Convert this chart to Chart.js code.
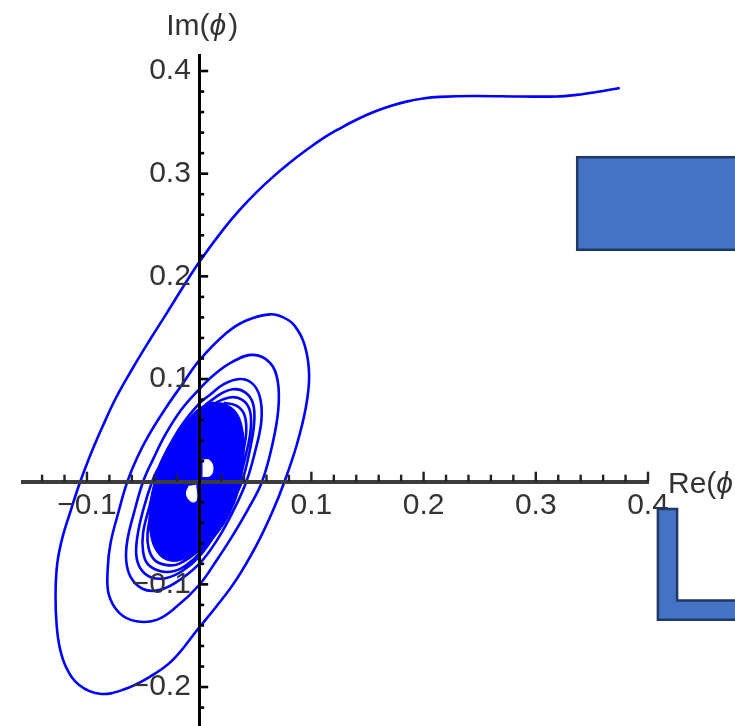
<!DOCTYPE html>
<html>
<head>
<meta charset="utf-8">
<script src="https://cdn.jsdelivr.net/npm/chart.js@4.4.0/dist/chart.umd.min.js"></script>
<style>
  html, body { margin: 0; padding: 0; background: #fff; }
  #wrap { position: relative; width: 735px; height: 726px; overflow: hidden; }
  #plot { position: absolute; left: 0; top: 0; }
  .shapes { position: absolute; left: 0; top: 0; }
</style>
</head>
<body>
<div id="wrap">
  <canvas id="plot" width="735" height="726"></canvas>
  <!-- the two blue boxes pasted over the figure -->
  <svg class="shapes" width="735" height="726">
    <rect x="577.2" y="157.2" width="180" height="92.6" fill="#4472c4" stroke="#1f3864" stroke-width="2.5"/>
    <polygon points="657.9,508.9 677.1,508.9 677.1,600.5 750,600.5 750,619.8 657.9,619.8"
             fill="#4472c4" stroke="#1f3864" stroke-width="2.5"/>
  </svg>
</div>
<script>
// trajectory in the (Re phi, Im phi) plane, in drawing order
const outerArc = [
  [0.3748, 0.3834], [0.354, 0.3795], [0.3362, 0.3768], [0.3184, 0.3752], [0.2886, 0.3752],
  [0.244, 0.3757], [0.2144, 0.3748], [0.1995, 0.3732], [0.1847, 0.3702], [0.1698, 0.3657],
  [0.1549, 0.3598], [0.1401, 0.3525], [0.1253, 0.344], [0.1103, 0.3344], [0.0955, 0.323],
  [0.0807, 0.3106], [0.0658, 0.2969], [0.051, 0.2818], [0.0361, 0.2647], [0.0212, 0.2453],
  [0.0004, 0.2145], [-0.0144, 0.1897], [-0.029, 0.164], [-0.044, 0.138], [-0.059, 0.111],
  [-0.074, 0.082], [-0.086, 0.054], [-0.0976, 0.0244], [-0.1065, -0.0015]
];
const loop1 = [
  [-0.115, -0.03], [-0.122, -0.055], [-0.1265, -0.08], [-0.128, -0.11], [-0.127, -0.14],
  [-0.124, -0.163], [-0.118, -0.182], [-0.107, -0.198], [-0.0887, -0.2066], [-0.068, -0.2027],
  [-0.044, -0.19], [-0.0234, -0.1735], [0.0, -0.142], [0.0153, -0.1216], [0.033, -0.0956],
  [0.051, -0.062], [0.065, -0.03], [0.076, 0.0], [0.087, 0.036], [0.095, 0.072],
  [0.098, 0.104], [0.094, 0.133], [0.085, 0.152], [0.075, 0.16], [0.063, 0.163]
];
const loop2 = [
  [0.042, 0.157], [0.024, 0.1446], [0.0, 0.118], [-0.015, 0.095], [-0.029, 0.073],
  [-0.044, 0.047], [-0.055, 0.024], [-0.064, 0.0], [-0.072, -0.03], [-0.079, -0.06],
  [-0.0815, -0.085], [-0.0805, -0.11], [-0.071, -0.128], [-0.056, -0.136], [-0.038, -0.1346],
  [-0.020, -0.1216], [0.0, -0.1006], [0.0153, -0.077], [0.029, -0.054], [0.044, -0.026],
  [0.056, 0.0], [0.065, 0.035], [0.0705, 0.07], [0.070, 0.098], [0.063, 0.116], [0.048, 0.1235]
];
const loop3 = [
  [0.03, 0.117], [0.013, 0.104], [0.0, 0.09], [-0.016, 0.07], [-0.03, 0.046],
  [-0.041, 0.022], [-0.050, 0.0], [-0.058, -0.03], [-0.064, -0.057], [-0.065, -0.077],
  [-0.061, -0.093], [-0.051, -0.104], [-0.038, -0.106], [-0.022, -0.099], [0.0, -0.08],
  [0.017, -0.055], [0.031, -0.027], [0.042, 0.0], [0.050, 0.03], [0.0555, 0.06],
  [0.054, 0.083], [0.047, 0.096], [0.036, 0.1]
];
const loop4 = [
  [0.022, 0.095], [0.01, 0.085], [0.0, 0.076], [-0.015, 0.056], [-0.028, 0.032],
  [-0.036, 0.014], [-0.042, 0.0], [-0.05, -0.028], [-0.055, -0.053], [-0.056, -0.072],
  [-0.052, -0.085], [-0.043, -0.093], [-0.03, -0.094], [-0.015, -0.087], [0.0, -0.073],
  [0.015, -0.05], [0.027, -0.025], [0.038, 0.0], [0.045, 0.03], [0.049, 0.057],
  [0.048, 0.076], [0.041, 0.087], [0.03, 0.09]
];
const loop5 = [
  [0.017, 0.084], [0.0, 0.069], [-0.015, 0.048], [-0.027, 0.025], [-0.038, 0.0],
  [-0.045, -0.027], [-0.05, -0.05], [-0.05, -0.068], [-0.046, -0.08], [-0.035, -0.087],
  [-0.022, -0.087], [-0.01, -0.08], [0.0, -0.07], [0.013, -0.05], [0.025, -0.025],
  [0.035, 0.0], [0.042, 0.028], [0.046, 0.052], [0.045, 0.07], [0.038, 0.08], [0.027, 0.082]
];
const loop6 = [
  [0.012, 0.075], [0.0, 0.064], [-0.015, 0.042], [-0.026, 0.02], [-0.035, 0.0],
  [-0.042, -0.027], [-0.046, -0.05], [-0.045, -0.065], [-0.04, -0.076], [-0.03, -0.081],
  [-0.018, -0.08], [0.0, -0.066], [0.012, -0.048], [0.024, -0.024], [0.033, 0.0],
  [0.039, 0.028], [0.042, 0.05], [0.04, 0.066], [0.033, 0.074], [0.022, 0.077]
];
// the innermost turns are so close that they merge into a solid patch
const corePatch = [
  [0.022, 0.077], [0.033, 0.068], [0.039, 0.05], [0.04, 0.025], [0.037, 0.0],
  [0.03, -0.025], [0.018, -0.048], [0.004, -0.064], [-0.012, -0.075], [-0.027, -0.077],
  [-0.038, -0.068], [-0.044, -0.048], [-0.044, -0.025], [-0.04, 0.0], [-0.032, 0.025],
  [-0.018, 0.05], [-0.004, 0.068], [0.01, 0.078]
];
// two small unfilled gaps right at the centre
const gapUpper = [[0.003, 0.021], [0.009, 0.021], [0.0123, 0.014], [0.010, 0.006], [0.003, 0.005]];
const gapLower = [[-0.003, -0.003], [-0.0025, -0.018], [-0.007, -0.0194], [-0.0114, -0.012], [-0.009, -0.004]];

const xTickValues = [-0.1, 0.1, 0.2, 0.3, 0.4];
const xTickLabels = ['\u22120.1', '0.1', '0.2', '0.3', '0.4'];
const yTickValues = [-0.2, -0.1, 0.1, 0.2, 0.3, 0.4];
const yTickLabels = ['\u22120.2', '\u22120.1', '0.1', '0.2', '0.3', '0.4'];

const toXY = pts => pts.map(([x, y]) => ({x, y}));
const trajectory = toXY([].concat(outerArc, loop1, loop2, loop3, loop4, loop5, loop6));

const FONT = 'Liberation Sans, Arial, sans-serif';

// draws "Im(" + italic phi + ")" as one label
function drawAxisName(ctx, prefix, x, y, align) {
  const parts = [[prefix + '(', false], ['\u03d5', true], [')', false]];
  const fontFor = it => (it ? 'italic ' : '') + '30px ' + FONT;
  let total = 0;
  parts.forEach(([t, it]) => { ctx.font = fontFor(it); total += ctx.measureText(t).width; });
  let cx = align === 'center' ? x - total / 2 : x;
  parts.forEach(([t, it]) => {
    ctx.font = fontFor(it);
    ctx.fillText(t, cx, y);
    cx += ctx.measureText(t).width + (it ? 2 : 0);
  });
}

// Mathematica style ticks (drawn into the positive side of each axis) and axis names
const axisDecor = {
  id: 'axisDecor',
  afterDraw(chart) {
    const {ctx, scales: {x, y}} = chart;
    const x0 = x.getPixelForValue(0);
    const y0 = y.getPixelForValue(0);
    ctx.save();
    ctx.fillStyle = '#222';
    for (let k = -7; k <= 20; k++) {
      if (k === 0) continue;
      const px = x.getPixelForValue(k * 0.02);
      const h = k % 5 === 0 ? 10 : 7;
      ctx.fillRect(px - 1.2, y0 - h, 2.4, h);
    }
    ctx.fillStyle = '#000';
    for (let k = -11; k <= 20; k++) {
      if (k === 0) continue;
      const py = y.getPixelForValue(k * 0.02);
      const w = k % 5 === 0 ? 9 : 5;
      ctx.fillRect(x0, py - 1.3, w, 2.6);
    }
    ctx.fillStyle = '#333';
    ctx.textBaseline = 'alphabetic';
    ctx.textAlign = 'left';
    drawAxisName(ctx, 'Im', x0 + 2, 35, 'center');
    drawAxisName(ctx, 'Re', x.right + 20, y0 + 11, 'left');
    ctx.restore();
  }
};

const blue = '#0000ff';
const patch = (pts, color, order) => ({
  data: toXY(pts), showLine: true, borderColor: color, backgroundColor: color,
  borderWidth: 1, pointRadius: 0, tension: 0.4, fill: 'shape', order
});

new Chart(document.getElementById('plot'), {
  type: 'scatter',
  data: {
    datasets: [{
      data: trajectory,
      showLine: true,
      borderColor: blue,
      borderWidth: 2.6,
      pointRadius: 0,
      tension: 0.4,
      fill: false,
      order: 1
    },
    patch(corePatch, blue, 2),
    patch(gapUpper, '#ffffff', 0),
    patch(gapLower, '#ffffff', 0)]
  },
  options: {
    responsive: false,
    animation: false,
    events: [],
    layout: {padding: {left: 23, right: 87, top: 55, bottom: 0}},
    plugins: {legend: {display: false}, tooltip: {enabled: false}},
    scales: {
      x: {
        type: 'linear',
        min: -0.157,
        max: 0.4,
        position: {y: 0},
        grid: {display: false, drawTicks: false},
        border: {color: '#3c3c3c', width: 4, z: 1},
        afterBuildTicks: s => { s.ticks = xTickValues.map(value => ({value})); },
        ticks: {
          z: 1, autoSkip: false, maxRotation: 0, padding: 6,
          color: '#333', font: {family: FONT, size: 30},
          callback: (v, i) => xTickLabels[i]
        }
      },
      y: {
        type: 'linear',
        min: -0.2378,
        max: 0.4156,
        position: {x: 0},
        grid: {display: false, drawTicks: false},
        border: {color: '#000', width: 3, z: 1},
        afterBuildTicks: s => { s.ticks = yTickValues.map(value => ({value})); },
        ticks: {
          z: 1, autoSkip: false, padding: 0,
          color: '#333', font: {family: FONT, size: 30, lineHeight: 0.01},
          callback: (v, i) => yTickLabels[i] + ' '
        }
      }
    }
  },
  plugins: [axisDecor]
});
</script>
</body>
</html>
